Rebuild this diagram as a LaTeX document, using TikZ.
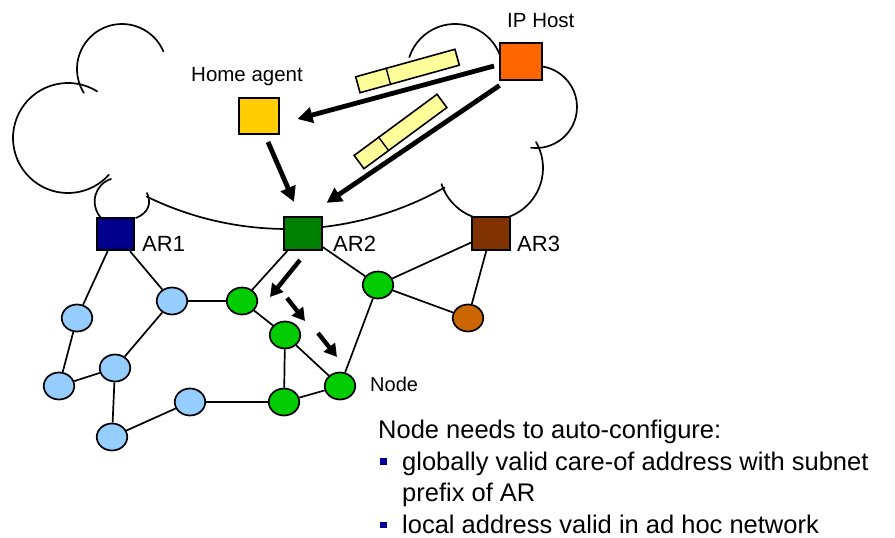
\documentclass[tikz,border=0pt]{standalone}
\usepackage{fontspec}
\setmainfont{Liberation Sans}
\usetikzlibrary{arrows.meta,shapes.geometric,calc}

\definecolor{arnavy}{RGB}{0,0,140}
\definecolor{argreen}{RGB}{0,128,0}
\definecolor{arbrown}{RGB}{128,51,0}
\definecolor{iporange}{RGB}{255,102,0}
\definecolor{homeyellow}{RGB}{255,204,0}
\definecolor{pktyellow}{RGB}{255,255,153}
\definecolor{adhocblue}{RGB}{150,205,255}
\definecolor{adhocgreen}{RGB}{0,204,0}
\definecolor{adhocorange}{RGB}{204,102,0}
\definecolor{bulletblue}{RGB}{0,0,153}

\begin{document}
\begin{tikzpicture}[x=1pt,y=-1pt,
  cloudline/.style={line width=1.7pt, line cap=round},
  hostbox/.style={draw, line width=2pt, inner sep=0pt},
  router/.style={draw, line width=1.8pt, minimum width=37.5pt, minimum height=32.5pt, inner sep=0pt},
  mnode/.style={ellipse, draw, line width=1.7pt, minimum width=30.5pt, minimum height=27pt, inner sep=0pt},
  link/.style={line width=1.7pt},
  bigarrow/.style={line width=4.8pt, -{Triangle[length=15pt,width=15.5pt]}},
  hoparrow/.style={line width=4.4pt, -{Triangle[length=12.5pt,width=14pt]}},
  packet/.style={draw, line width=1.6pt, fill=pktyellow, minimum width=103pt, minimum height=16.5pt, inner sep=0pt},
  lbl/.style={font=\fontsize{20.5}{24}\selectfont, anchor=base west, inner sep=0pt},
  arlbl/.style={font=\fontsize{22}{26}\selectfont, anchor=base west, inner sep=0pt},
  txt/.style={font=\fontsize{25.5}{30}\selectfont, anchor=base west, inner sep=0pt},
  bulletsq/.style={fill=bulletblue, minimum size=6.5pt, inner sep=0pt}
]
\fill[white] (0,0) rectangle (895,538);
\useasboundingbox (0,0) rectangle (895,538);

% ---- cloud outline (open arcs) ----
\draw[cloudline] ($(122,69)+(23:45pt)$) arc[start angle=23, end angle=212, radius=45pt];
\draw[cloudline] ($(68,138)+(58:55pt)$) arc[start angle=58, end angle=318, radius=55pt];
\draw[cloudline] (111,179) .. controls (95,184) and (89,204) .. (101,218);
\draw[cloudline] (147,193) .. controls (152,204) and (148,213) .. (136,218);
\draw[cloudline] ($(287,-91)+(-116:320pt)$) arc[start angle=-116, end angle=-60.5, radius=320pt];
\draw[cloudline] ($(491,168)+(198:52pt)$) arc[start angle=198, end angle=390, radius=52pt];
\draw[cloudline] ($(536,107)+(-97:41pt)$) arc[start angle=-97, end angle=95, radius=41pt];
\draw[cloudline] ($(455,72)+(20:48pt)$) arc[start angle=20, end angle=162, radius=48pt];

% ---- hosts and access routers ----
\node[hostbox, fill=homeyellow, minimum width=40pt, minimum height=36pt] (home) at (258.5,115.5) {};
\node[hostbox, fill=iporange, minimum width=42pt, minimum height=37pt] (ip) at (521,61.5) {};
\node[router, fill=arnavy] (ar1) at (115.5,234) {};
\node[router, fill=argreen] (ar2) at (303,233.5) {};
\node[router, fill=arbrown] (ar3) at (491,233.5) {};

\node[lbl] (homelbl) at (191,81) {Home agent};
\node[lbl] (iplbl) at (507,27.3) {IP Host};
\node[arlbl] (ar1lbl) at (142,251) {AR1};
\node[arlbl] (ar2lbl) at (333,251) {AR2};
\node[arlbl] (ar3lbl) at (517,251) {AR3};

% ---- ad hoc network nodes ----
\node[mnode, fill=adhocblue] (b1) at (77,318) {};
\node[mnode, fill=adhocblue] (b2) at (172,301) {};
\node[mnode, fill=adhocblue] (b3) at (115,368) {};
\node[mnode, fill=adhocblue] (b4) at (59,386) {};
\node[mnode, fill=adhocblue] (b5) at (190,402) {};
\node[mnode, fill=adhocblue] (b6) at (112,437) {};
\node[mnode, fill=adhocgreen] (g1) at (242,301) {};
\node[mnode, fill=adhocgreen] (g2) at (285,335) {};
\node[mnode, fill=adhocgreen] (g3) at (340,386) {};
\node[mnode, fill=adhocgreen] (g4) at (284,402) {};
\node[mnode, fill=adhocgreen] (g5) at (378,285) {};
\node[mnode, fill=adhocorange] (o1) at (468,318) {};
\node[arlbl, font=\fontsize{20}{24}\selectfont] (nodelbl) at (370,391) {Node};

% ---- links ----
\draw[link] (ar1) -- (b1);
\draw[link] (ar1) -- (b2);
\draw[link] (b1) -- (b4);
\draw[link] (b4) -- (b3);
\draw[link] (b3) -- (b2);
\draw[link] (b3) -- (b6);
\draw[link] (b6) -- (b5);
\draw[link] (b5) -- (g4);
\draw[link] (b2) -- (g1);
\draw[link] (g1) -- (ar2);
\draw[link] (g1) -- (g2);
\draw[link] (g2) -- (g4);
\draw[link] (g2) -- (g3);
\draw[link] (g4) -- (g3);
\draw[link] (g3) -- (g5);
\draw[link] (g5) -- (ar2);
\draw[link] (g5) -- (ar3);
\draw[link] (g5) -- (o1);
\draw[link] (ar3) -- (o1);

% ---- tunnelled packets ----
\node[packet, rotate=15.5] (pk1) at (407.5,71) {};
\draw[line width=1.4pt] ($(pk1.south west)!0.31!(pk1.south east)$) -- ($(pk1.north west)!0.31!(pk1.north east)$);
\node[packet, rotate=36.4] (pk2) at (400.5,131.5) {};
\draw[line width=1.4pt] ($(pk2.south west)!0.30!(pk2.south east)$) -- ($(pk2.north west)!0.30!(pk2.north east)$);

% ---- packet paths ----
\draw[bigarrow] ($(ip.west)+(-5,4.5)$) -- ($(home.east)+(18,3.5)$);
\draw[bigarrow] ($(ip.south west)+(0.5,4.5)$) -- ($(ar2.north east)+(4,-13.5)$);
\draw[bigarrow] ($(home.south)+(9.5,7.5)$) -- ($(ar2.north)+(-9,-14.5)$);

% ---- forwarding inside the ad hoc network ----
\coordinate (h1s) at (300,260);
\coordinate (h1e) at (270,297);
\coordinate (h2s) at (287,298);
\coordinate (h2e) at (305,321);
\coordinate (h3s) at (318,333);
\coordinate (h3e) at (337,357);
\draw[hoparrow] (h1s) -- (h1e);
\draw[hoparrow] (h2s) -- (h2e);
\draw[hoparrow] (h3s) -- (h3e);

% ---- caption ----
\node[txt] (t0) at (378,438.3) {Node needs to auto-configure:};
\node[bulletsq] (bl1) at (383.3,461.7) {};
\node[txt] (t1) at (402,470) {globally valid care-of address with subnet};
\node[txt] (t2) at (402,501.7) {prefix of AR};
\node[bulletsq] (bl2) at (383.3,525) {};
\node[txt] (t3) at (402,533.4) {local address valid in ad hoc network};
\end{tikzpicture}
\end{document}
